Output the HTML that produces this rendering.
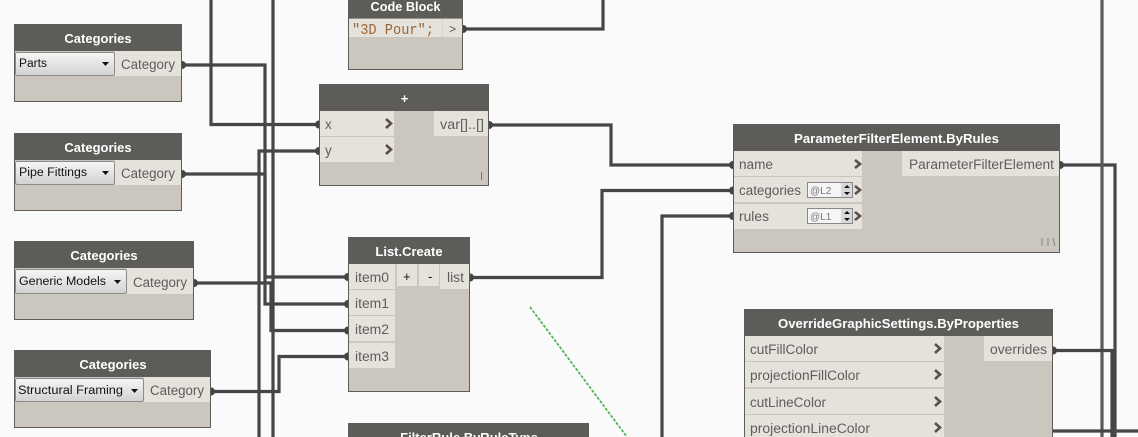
<!DOCTYPE html>
<html><head><meta charset="utf-8"><style>
html,body{margin:0;padding:0;background:#fafafa;width:1138px;height:437px;overflow:hidden}
svg{display:block}
text{font-family:"Liberation Sans",sans-serif}
.n{fill:#cbc6be;stroke:#5f5c58;stroke-width:1}
.h{fill:#5e5c59}
.r{fill:#e5e2dc}
.t{fill:#fff;font-weight:bold;font-size:13px;text-anchor:middle}
.l{fill:#5d5d5d;font-size:13.5px}
.w{fill:none;stroke:#464646;stroke-width:3.2}
.c{fill:none;stroke:#5a5048;stroke-width:2.6}
.d{fill:url(#g);stroke:#8a8a8a;stroke-width:1}
.s{fill:#111;font-size:11.5px}
.a{fill:#111}
.p{fill:#444}
</style></head><body>
<svg width="1138" height="437" viewBox="0 0 1138 437" xmlns="http://www.w3.org/2000/svg">
<defs><linearGradient id="g" x1="0" y1="0" x2="0" y2="1"><stop offset="0" stop-color="#f6f6f6"/><stop offset="1" stop-color="#d2d2d2"/></linearGradient></defs>
<rect width="1138" height="437" fill="#fafafa"/>

<!-- Nodes -->
<rect class="n" x="14.5" y="24.5" width="167" height="77"/><rect class="h" x="14" y="24" width="168" height="27"/>
<text class="t" x="98" y="43">Categories</text>
<rect class="r" x="115" y="51" width="66" height="25"/>
<rect class="d" x="15.5" y="52.5" width="99" height="23" rx="2"/>
<text class="s" x="19" y="67" textLength="28" lengthAdjust="spacingAndGlyphs">Parts</text><path class="a" d="M102 62h7l-3.5 4z"/>
<text class="l" x="121" y="69" textLength="54" lengthAdjust="spacingAndGlyphs">Category</text>

<rect class="n" x="14.5" y="133.5" width="167" height="77"/><rect class="h" x="14" y="133" width="168" height="27"/>
<text class="t" x="98" y="152">Categories</text>
<rect class="r" x="115" y="160" width="66" height="25"/>
<rect class="d" x="15.5" y="161.5" width="99" height="23" rx="2"/>
<text class="s" x="19" y="176" textLength="68" lengthAdjust="spacingAndGlyphs">Pipe Fittings</text><path class="a" d="M102 171h7l-3.5 4z"/>
<text class="l" x="121" y="178" textLength="54" lengthAdjust="spacingAndGlyphs">Category</text>

<rect class="n" x="14.5" y="241.5" width="179" height="78"/><rect class="h" x="14" y="241" width="180" height="27"/>
<text class="t" x="104" y="260">Categories</text>
<rect class="r" x="127" y="268" width="66" height="26"/>
<rect class="d" x="15.5" y="269.5" width="111" height="24" rx="2"/>
<text class="s" x="19" y="285" textLength="87" lengthAdjust="spacingAndGlyphs">Generic Models</text><path class="a" d="M114 280h7l-3.5 4z"/>
<text class="l" x="133" y="287" textLength="54" lengthAdjust="spacingAndGlyphs">Category</text>

<rect class="n" x="14.5" y="350.5" width="196" height="77"/><rect class="h" x="14" y="350" width="197" height="27"/>
<text class="t" x="113" y="369">Categories</text>
<rect class="r" x="144" y="377" width="66" height="25"/>
<rect class="d" x="15.5" y="378.5" width="128" height="23" rx="2"/>
<text class="s" x="18" y="394" textLength="105" lengthAdjust="spacingAndGlyphs">Structural Framing</text><path class="a" d="M131 389h7l-3.5 4z"/>
<text class="l" x="150" y="395" textLength="54" lengthAdjust="spacingAndGlyphs">Category</text>

<rect class="n" x="348.5" y="-5" width="114" height="74.5"/><rect class="h" x="348" y="-5" width="115" height="23.5"/>
<text class="t" x="405.500" y="11" textLength="70" lengthAdjust="spacingAndGlyphs">Code Block</text>
<rect class="r" x="349" y="19" width="113" height="18"/><rect x="442" y="19" width="1" height="18" fill="#d8d5cf"/>
<text x="352" y="34" font-size="15" fill="#9a6535" style="font-family:'Liberation Mono',monospace" textLength="82" lengthAdjust="spacingAndGlyphs">"3D Pour";</text>
<text x="449" y="33" font-size="12" fill="#555" style="font-family:'Liberation Mono',monospace">&gt;</text>

<rect class="n" x="319.500" y="84.500" width="169" height="101"/><rect class="h" x="319" y="84" width="170" height="27"/>
<text class="t" x="404.500" y="103">+</text>
<rect class="r" x="320" y="111" width="74" height="25"/><rect class="r" x="320" y="137" width="74" height="25"/>
<rect class="r" x="434" y="111" width="54" height="25"/>
<text class="l" x="325" y="129">x</text><text class="l" x="325" y="155">y</text>
<text class="l" x="440" y="129" textLength="44" lengthAdjust="spacingAndGlyphs">var[]..[]</text>
<path class="c" d="M386 119l5 4.500-5 4.500M386 145l5 4.500-5 4.500"/>
<rect x="481" y="172" width="1" height="8" fill="#777"/>

<rect class="n" x="348.500" y="237.500" width="121" height="154"/><rect class="h" x="348" y="237" width="122" height="27"/>
<text class="t" x="409" y="256">List.Create</text>
<rect class="r" x="349" y="264" width="46" height="25"/><rect class="r" x="349" y="290" width="46" height="25"/>
<rect class="r" x="349" y="316" width="46" height="25"/><rect class="r" x="349" y="343" width="46" height="25"/>
<rect class="r" x="397" y="264" width="20" height="22"/><rect class="r" x="419" y="264" width="20" height="22"/>
<rect class="r" x="440" y="264" width="29" height="25"/>
<text class="l" x="355" y="282" textLength="34" lengthAdjust="spacingAndGlyphs">item0</text>
<text class="l" x="355" y="308" textLength="34" lengthAdjust="spacingAndGlyphs">item1</text>
<text class="l" x="355" y="334" textLength="34" lengthAdjust="spacingAndGlyphs">item2</text>
<text class="l" x="355" y="361" textLength="34" lengthAdjust="spacingAndGlyphs">item3</text>
<text x="403" y="281" font-size="13" fill="#111">+</text><text x="428" y="281" font-size="13" fill="#111">-</text>
<text class="l" x="447" y="282" textLength="17" lengthAdjust="spacingAndGlyphs">list</text>

<rect class="n" x="348.500" y="423.500" width="240" height="30"/><rect class="h" x="348" y="423" width="241" height="27"/>
<text class="t" x="469" y="442">FilterRule.ByRuleType</text>

<rect class="n" x="733.500" y="124.500" width="326" height="128"/><rect class="h" x="733" y="124" width="327" height="27"/>
<text class="t" x="896.500" y="143" textLength="205" lengthAdjust="spacingAndGlyphs">ParameterFilterElement.ByRules</text>
<rect class="r" x="734" y="151" width="128" height="25"/><rect class="r" x="734" y="177" width="128" height="25"/><rect class="r" x="734" y="204" width="128" height="25"/>
<rect class="r" x="902" y="151" width="157" height="25"/>
<text class="l" x="739" y="169" textLength="34" lengthAdjust="spacingAndGlyphs">name</text>
<text class="l" x="739" y="195" textLength="62" lengthAdjust="spacingAndGlyphs">categories</text>
<text class="l" x="739" y="221" textLength="30" lengthAdjust="spacingAndGlyphs">rules</text>
<text class="l" x="909" y="169" textLength="145" lengthAdjust="spacingAndGlyphs">ParameterFilterElement</text>
<rect x="807.500" y="182.500" width="45" height="15" fill="#f5f5f5" stroke="#888"/><rect x="807.500" y="208.500" width="45" height="15" fill="#f5f5f5" stroke="#888"/>
<rect x="841" y="183" width="11" height="14" fill="#d8d8d8"/><rect x="841" y="209" width="11" height="14" fill="#d8d8d8"/>
<text x="810" y="194" font-size="10" fill="#777">@L2</text><text x="810" y="220" font-size="10" fill="#777">@L1</text>
<path class="a" d="M844 188h6l-3-3zM844 192h6l-3 3zM844 214h6l-3-3zM844 218h6l-3 3z"/>
<path class="c" d="M855 160l5 4-5 4M855 186l5 4-5 4M855 212l5 4-5 4"/>
<path d="M1042 238v8M1048 238v8M1053 238l2 8" stroke="#8a8680" stroke-width="1" fill="none"/>

<rect class="n" x="744.500" y="309.500" width="308" height="140"/><rect class="h" x="744" y="309" width="309" height="27"/>
<text class="t" x="898.500" y="328" textLength="241" lengthAdjust="spacingAndGlyphs">OverrideGraphicSettings.ByProperties</text>
<rect class="r" x="745" y="336" width="199" height="25"/><rect class="r" x="745" y="362" width="199" height="25"/><rect class="r" x="745" y="389" width="199" height="25"/><rect class="r" x="745" y="415" width="199" height="25"/>
<rect class="r" x="984" y="336" width="68" height="25"/>
<text class="l" x="750" y="354" textLength="68" lengthAdjust="spacingAndGlyphs">cutFillColor</text>
<text class="l" x="750" y="380" textLength="110" lengthAdjust="spacingAndGlyphs">projectionFillColor</text>
<text class="l" x="750" y="407" textLength="76" lengthAdjust="spacingAndGlyphs">cutLineColor</text>
<text class="l" x="750" y="433" textLength="120" lengthAdjust="spacingAndGlyphs">projectionLineColor</text>
<text class="l" x="990" y="354" textLength="57" lengthAdjust="spacingAndGlyphs">overrides</text>
<path class="c" d="M935 344l5 4.500-5 4.500M935 370l5 4.500-5 4.500M935 397l5 4.500-5 4.500M935 423l5 4.500-5 4.500"/>

<!-- Wires -->
<path class="w" d="M211 0V124.500H319"/>
<path class="w" d="M273 0V437"/>
<path class="w" d="M319 151H259V437"/>
<path class="w" d="M182 65H265V304H348"/>
<path class="w" d="M182 174H265V277H348"/>
<path class="w" d="M194 283H271V330.500H348"/>
<path class="w" d="M211 391.500H279V356.500H348"/>
<path class="w" d="M463 29H603V0"/>
<path class="w" d="M489 125H611V165H733"/>
<path class="w" d="M470 277.500H602V190.500H733"/>
<path class="w" d="M733 216H662V437"/>
<path class="w" d="M1060 165H1115V437"/>
<path class="w" d="M1102 0V437" style="stroke:#5a5a5a"/>
<path class="w" d="M1053 350.500H1112V437"/>
<path class="w" d="M1053 431H1138"/>
<path d="M530 307L627 437" fill="none" stroke="#4caf50" stroke-width="1.700" stroke-dasharray="3 1.500"/>

<!-- Ports: half discs on node edges -->
<g class="p">
<path d="M182 61a4 4 0 0 1 0 8zM182 170a4 4 0 0 1 0 8zM194 279a4 4 0 0 1 0 8zM211 387.500a4 4 0 0 1 0 8z"/>
<path d="M463 25a4 4 0 0 1 0 8zM489 121a4 4 0 0 1 0 8zM470 273.500a4 4 0 0 1 0 8zM1060 161a4 4 0 0 1 0 8zM1053 346.500a4 4 0 0 1 0 8z"/>
<path d="M319 120.500a4 4 0 0 0 0 8zM319 147a4 4 0 0 0 0 8z"/>
<path d="M348 273a4 4 0 0 0 0 8zM348 300a4 4 0 0 0 0 8zM348 326.500a4 4 0 0 0 0 8zM348 352.500a4 4 0 0 0 0 8z"/>
<path d="M733 161a4 4 0 0 0 0 8zM733 186.500a4 4 0 0 0 0 8zM733 212a4 4 0 0 0 0 8z"/>
</g>
</svg>
</body></html>
